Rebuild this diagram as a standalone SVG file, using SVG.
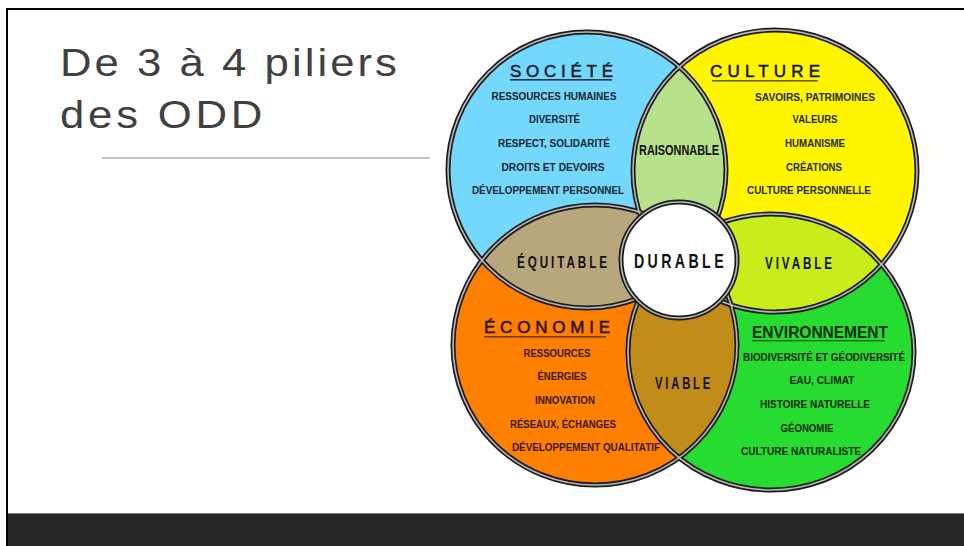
<svg xmlns="http://www.w3.org/2000/svg" width="964" height="546" viewBox="0 0 964 546">
<style>
.title{font-family:"Liberation Sans",Arial,sans-serif;font-size:38px;fill:#404040}
.s{font-family:"Liberation Sans",Arial,sans-serif;font-weight:bold;font-size:10px;text-anchor:middle}
.h{font-family:"Liberation Sans",Arial,sans-serif;font-size:17px;text-anchor:middle;stroke-width:0.5}
.l{font-family:"Liberation Sans",Arial,sans-serif;font-weight:bold;text-anchor:middle;fill:#111}
.o1{fill:none;stroke:#1c1c1c;stroke-width:5}
.o2{fill:none;stroke:#b8b8b8;stroke-width:1.6}
</style>
<defs>
<clipPath id="cSoc"><ellipse cx="587" cy="170" rx="139" ry="138"/></clipPath>
<clipPath id="cCul"><ellipse cx="775" cy="171" rx="142" ry="141"/></clipPath>
<clipPath id="cEco"><ellipse cx="595" cy="345" rx="142" ry="140"/></clipPath>
</defs>
<rect x="0" y="0" width="964" height="546" fill="#ffffff"/>
<g id="frame">
<rect x="6" y="8" width="958" height="2" fill="#000"/>
<rect x="6" y="8" width="2" height="538" fill="#000"/>
<rect x="8" y="513" width="956" height="33" fill="#262626"/>
<rect x="8" y="513" width="956" height="1" fill="#7a7a7a"/>
</g>
<g id="title">
<g transform="translate(60,0) scale(1.15,1)">
<text class="title" x="0" y="76" textLength="293" lengthAdjust="spacing">De 3 à 4 piliers</text>
<text class="title" x="0" y="128" textLength="176" lengthAdjust="spacing">des ODD</text>
</g>
<line x1="102" y1="158" x2="430" y2="158" stroke="#8a8a8a" stroke-width="1.2"/>
</g>
<g id="societe">
<ellipse cx="587" cy="170" rx="139" ry="138" fill="#74d7fc"/>
</g>
<g id="culture">
<ellipse cx="775" cy="171" rx="142" ry="141" fill="#fff500"/>
</g>
<g id="economie">
<ellipse cx="595" cy="345" rx="142" ry="140" fill="#ff8000"/>
</g>
<g id="environnement">
<ellipse cx="771" cy="352" rx="143" ry="138" fill="#26dc30"/>
</g>
<g id="raisonnable">
<ellipse cx="775" cy="171" rx="142" ry="141" fill="#b7e28b" clip-path="url(#cSoc)"/>
</g>
<g id="equitable">
<ellipse cx="595" cy="345" rx="142" ry="140" fill="#b8a67c" clip-path="url(#cSoc)"/>
</g>
<g id="vivable">
<ellipse cx="771" cy="352" rx="143" ry="138" fill="#c8ec1c" clip-path="url(#cCul)"/>
</g>
<g id="viable">
<ellipse cx="771" cy="352" rx="143" ry="138" fill="#c28c1a" clip-path="url(#cEco)"/>
</g>
<g id="connectors">
<ellipse class="o1" cx="587" cy="170" rx="139" ry="138"/>
<ellipse class="o1" cx="775" cy="171" rx="142" ry="141"/>
<ellipse class="o1" cx="595" cy="345" rx="142" ry="140"/>
<ellipse class="o1" cx="771" cy="352" rx="143" ry="138"/>
<ellipse class="o2" cx="587" cy="170" rx="139" ry="138"/>
<ellipse class="o2" cx="775" cy="171" rx="142" ry="141"/>
<ellipse class="o2" cx="595" cy="345" rx="142" ry="140"/>
<ellipse class="o2" cx="771" cy="352" rx="143" ry="138"/>
</g>
<g id="durable">
<circle cx="679" cy="260" r="58" fill="#ffffff"/>
<circle class="o1" cx="679" cy="260" r="58"/>
<circle class="o2" cx="679" cy="260" r="58"/>
<text class="l" x="680.5" y="268" font-size="21" letter-spacing="5" textLength="93" lengthAdjust="spacingAndGlyphs">DURABLE</text>
</g>
<g id="societe-text">
<text class="h" x="561.5" y="77" fill="#14202e" stroke="#14202e" textLength="103" lengthAdjust="spacing">SOCIÉTÉ</text>
<rect x="510" y="79" width="102" height="1.6" fill="#2a3440"/>
<g class="s" fill="#182535">
<text x="554" y="100" textLength="125" lengthAdjust="spacingAndGlyphs">RESSOURCES HUMAINES</text>
<text x="554.5" y="123" textLength="51" lengthAdjust="spacingAndGlyphs">DIVERSITÉ</text>
<text x="554" y="147" textLength="112" lengthAdjust="spacingAndGlyphs">RESPECT, SOLIDARITÉ</text>
<text x="553" y="171" textLength="103" lengthAdjust="spacingAndGlyphs">DROITS ET DEVOIRS</text>
<text x="548" y="194" textLength="152" lengthAdjust="spacingAndGlyphs">DÉVELOPPEMENT PERSONNEL</text>
</g>
</g>
<g id="culture-text">
<text class="h" x="765" y="77" fill="#111" stroke="#111" textLength="110" lengthAdjust="spacing">CULTURE</text>
<rect x="712" y="80" width="106" height="1.6" fill="#6a6420"/>
<g class="s" fill="#2a2a10">
<text x="815" y="101" textLength="120" lengthAdjust="spacingAndGlyphs">SAVOIRS,  PATRIMOINES</text>
<text x="815" y="123" textLength="45" lengthAdjust="spacingAndGlyphs">VALEURS</text>
<text x="815" y="147" textLength="60" lengthAdjust="spacingAndGlyphs">HUMANISME</text>
<text x="814" y="171" textLength="56" lengthAdjust="spacingAndGlyphs">CRÉATIONS</text>
<text x="809" y="194" textLength="124" lengthAdjust="spacingAndGlyphs">CULTURE PERSONNELLE</text>
</g>
</g>
<g id="economie-text">
<text class="h" x="547" y="333" fill="#2a1200" stroke="#2a1200" textLength="126" lengthAdjust="spacing">ÉCONOMIE</text>
<rect x="484" y="336" width="122" height="1.6" fill="#7a3c00"/>
<g class="s" fill="#3a1800">
<text x="557" y="357" textLength="67" lengthAdjust="spacingAndGlyphs">RESSOURCES</text>
<text x="562" y="380" textLength="49" lengthAdjust="spacingAndGlyphs">ÉNERGIES</text>
<text x="565" y="404" textLength="60" lengthAdjust="spacingAndGlyphs">INNOVATION</text>
<text x="563" y="428" textLength="106" lengthAdjust="spacingAndGlyphs">RÉSEAUX, ÉCHANGES</text>
<text x="586" y="451" textLength="148" lengthAdjust="spacingAndGlyphs">DÉVELOPPEMENT QUALITATIF</text>
</g>
</g>
<g id="environnement-text">
<text x="820" y="338" font-family="Liberation Sans, Arial, sans-serif" font-weight="bold" font-size="16" text-anchor="middle" fill="#0c2a0e" textLength="136" lengthAdjust="spacingAndGlyphs">ENVIRONNEMENT</text>
<rect x="752" y="340" width="133" height="1.4" fill="#1a6a20"/>
<g class="s" fill="#0c2a0e">
<text x="824" y="361" textLength="162" lengthAdjust="spacingAndGlyphs">BIODIVERSITÉ ET GÉODIVERSITÉ</text>
<text x="822" y="384" textLength="65" lengthAdjust="spacingAndGlyphs">EAU, CLIMAT</text>
<text x="815" y="408" textLength="110" lengthAdjust="spacingAndGlyphs">HISTOIRE NATURELLE</text>
<text x="807" y="432" textLength="53" lengthAdjust="spacingAndGlyphs">GÉONOMIE</text>
<text x="801" y="455" textLength="120" lengthAdjust="spacingAndGlyphs">CULTURE NATURALISTE</text>
</g>
</g>
<g id="lens-labels">
<text class="l" x="679" y="155" font-size="15" textLength="80" lengthAdjust="spacingAndGlyphs">RAISONNABLE</text>
<text class="l" x="563.5" y="268" font-size="16" letter-spacing="4" textLength="93" lengthAdjust="spacingAndGlyphs">ÉQUITABLE</text>
<text class="l" x="800" y="269" font-size="16" letter-spacing="4" textLength="70" lengthAdjust="spacingAndGlyphs">VIVABLE</text>
<text class="l" x="684" y="389" font-size="16" letter-spacing="4" textLength="58" lengthAdjust="spacingAndGlyphs">VIABLE</text>
</g>
</svg>
